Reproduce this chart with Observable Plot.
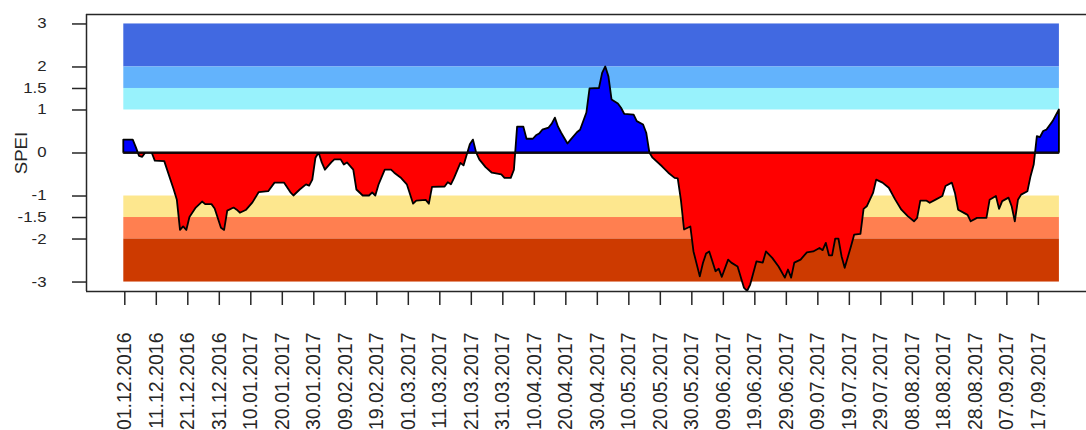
<!DOCTYPE html>
<html>
<head>
<meta charset="utf-8">
<script src="https://cdn.jsdelivr.net/npm/d3@7"></script>
<script src="https://cdn.jsdelivr.net/npm/@observablehq/plot@0.6"></script>
<style>
  html, body { margin: 0; padding: 0; background: white; overflow: hidden; }
  #chart { width: 1086px; height: 430px; }
</style>
</head>
<body>
<div id="chart"></div>
<script>
// ---- data: day offsets from 01.12.2016 and SPEI values
const startDate = "2016-12-01";
const dayOffsets = [0,3,4,5,6,7,9,10,13,16,17,18,19,20,21,23,25,26,28,29,31,32,33,35,36,37,39,41,43,46,48,51,53,54,56,58,59,60,61,62,63,64,66,67,69,70,71,73,74,76,78,79,80,81,83,85,86,88,90,92,93,96,97,98,102,103,104,105,107,108,110,111,112,113,115,117,120,121,123,124,125,127,128,130,131,132,133,135,136,137,138,139,141,142,144,145,147,148,151,152,153,154,155,157,158,159,162,163,165,166,167,168,171,173,175,176,177,178,180,181,183,184,185,186,188,189,190,192,193,195,197,198,199,201,203,204,206,208,210,211,212,213,215,217,219,221,222,223,224,225,226,227,228,229,231,232,234,235,236,238,239,241,243,245,247,249,251,252,253,255,256,258,260,261,263,264,265,267,268,269,271,274,275,277,278,279,281,282,283,284,285,287,288,289,290,291,292,293,295,297];
const speiValues = [0.30,0.30,0.12,-0.08,-0.10,0.00,0.00,-0.19,-0.20,-0.86,-1.10,-1.80,-1.72,-1.80,-1.50,-1.28,-1.14,-1.20,-1.20,-1.30,-1.75,-1.80,-1.35,-1.28,-1.33,-1.40,-1.33,-1.16,-0.92,-0.90,-0.70,-0.70,-0.92,-1.00,-0.86,-0.74,-0.77,-0.63,-0.12,0.00,-0.23,-0.40,-0.23,-0.16,-0.16,-0.28,-0.23,-0.40,-0.86,-1.00,-1.00,-0.93,-1.00,-0.75,-0.40,-0.40,-0.47,-0.58,-0.74,-1.19,-1.12,-1.10,-1.19,-0.80,-0.79,-0.69,-0.74,-0.59,-0.24,-0.30,0.19,0.30,0.00,-0.16,-0.34,-0.47,-0.51,-0.59,-0.59,-0.40,0.60,0.60,0.32,0.32,0.40,0.44,0.53,0.58,0.67,0.81,0.60,0.46,0.21,0.30,0.47,0.53,0.93,1.49,1.50,1.85,2.00,1.77,1.23,1.14,1.04,0.90,0.88,0.73,0.65,0.46,0.00,-0.12,-0.32,-0.47,-0.59,-0.60,-1.10,-1.79,-1.72,-2.30,-2.88,-2.57,-2.35,-2.30,-2.76,-2.70,-2.89,-2.49,-2.56,-2.65,-3.14,-3.22,-3.07,-2.53,-2.56,-2.30,-2.45,-2.65,-2.91,-2.72,-2.91,-2.56,-2.49,-2.32,-2.30,-2.22,-2.27,-2.10,-2.39,-2.39,-2.00,-2.00,-2.41,-2.68,-2.18,-1.91,-1.89,-1.31,-1.25,-0.94,-0.63,-0.70,-0.82,-1.09,-1.33,-1.48,-1.60,-1.52,-1.12,-1.12,-1.17,-1.09,-1.01,-0.78,-0.70,-0.94,-1.33,-1.41,-1.45,-1.60,-1.52,-1.52,-1.10,-1.01,-1.31,-1.13,-1.05,-1.25,-1.60,-1.10,-0.98,-0.90,-0.55,-0.28,0.38,0.36,0.50,0.53,0.73,1.00];

// background category bands
const bandLow  = [2, 1.5, 1, -1.5, -2, -3];
const bandHigh = [3, 2, 1.5, -1, -1.5, -2];
const bandColors = ["#4169E1", "#63B3FC", "#98F2FC", "#FDE78E", "#FF7F50", "#CD3A00"];

// axis ticks
const yTicks = [3, 2, 1.5, 1, 0, -1, -1.5, -2, -3];
const xTickLabels = ["01.12.2016","11.12.2016","21.12.2016","31.12.2016","10.01.2017","20.01.2017","30.01.2017","09.02.2017","19.02.2017","01.03.2017","11.03.2017","21.03.2017","31.03.2017","10.04.2017","20.04.2017","30.04.2017","10.05.2017","20.05.2017","30.05.2017","09.06.2017","19.06.2017","29.06.2017","09.07.2017","19.07.2017","29.07.2017","08.08.2017","18.08.2017","28.08.2017","07.09.2017","17.09.2017"];

// ---- build
const DAY = 864e5;
const t0 = new Date(startDate + "T00:00:00Z").getTime();
const toDate = d => new Date(t0 + d * DAY);
const series = dayOffsets.map((d, i) => ({date: toDate(d), v: speiValues[i]}));
const first = series[0].date, last = series[series.length - 1].date;
const bands = bandLow.map((lo, i) => ({y1: lo, y2: bandHigh[i], color: bandColors[i]}));
const parse = d3.utcParse("%d.%m.%Y");
const fmt = d3.utcFormat("%d.%m.%Y");
const xTicks = xTickLabels.map(parse);

const W = 1086, H = 430, mL = 86, mT = 14, mB = 139;
const xDomain = [toDate(-11.84), toDate(305.6)];
const yDomain = [-3.22, 3.22];
const ink = "#262626";

const plot = Plot.plot({
  width: W, height: H,
  marginLeft: mL, marginRight: 0, marginTop: mT, marginBottom: mB,
  style: {fontFamily: "'Liberation Sans', Arial, sans-serif", color: ink, background: "white", fontSize: "14px"},
  x: {type: "utc", domain: xDomain},
  y: {domain: yDomain},
  marks: [
    Plot.rect(bands, {x1: () => first, x2: () => last, y1: "y1", y2: "y2", fill: "color"}),
    Plot.areaY(series, {x: "date", y1: 0, y2: "v", fill: "#0000FF", stroke: "black", strokeWidth: 1.8}),
    Plot.areaY(series, {x: "date", y1: 0, y2: "v", fill: "#FF0000", stroke: "black", strokeWidth: 1.8}),
    Plot.ruleY([0], {x1: first, x2: last, stroke: "black", strokeWidth: 1.6}),
    Plot.ruleX([xDomain[0]], {stroke: ink, strokeWidth: 1.5}),
    Plot.ruleY([yDomain[0], yDomain[1]], {stroke: ink, strokeWidth: 1.5}),
    Plot.axisY({ticks: yTicks, tickSize: 14, tickPadding: 26, tickFormat: d => String(d), fontSize: 14, label: null, strokeWidth: 1.5}),
    Plot.axisX({ticks: xTicks, tickFormat: fmt, tickRotate: -90, tickSize: 14, tickPadding: 27, fontSize: 19.5, label: null, strokeWidth: 1.5, dx: 1}),
    Plot.text(["SPEI"], {frameAnchor: "left", text: d => d, rotate: -90, dx: -65, textAnchor: "middle", fontSize: 16.5, fill: ink})
  ]
});

document.getElementById("chart").appendChild(plot);

// split the two area copies at the zero line (blue above, red below) using nested svg viewports
const plotH = H - mT - mB;
const y0 = mT + plotH * (yDomain[1] - 0) / (yDomain[1] - yDomain[0]);
const NS = "http://www.w3.org/2000/svg";
function wrapIn(g, vy, vh) {
  if (!g) return;
  const inner = document.createElementNS(NS, "svg");
  inner.setAttribute("x", 0); inner.setAttribute("y", vy);
  inner.setAttribute("width", W); inner.setAttribute("height", vh);
  inner.setAttribute("viewBox", `0 ${vy} ${W} ${vh}`);
  inner.setAttribute("overflow", "hidden");
  g.parentNode.insertBefore(inner, g);
  inner.appendChild(g);
}
const areaGroups = plot.querySelectorAll('g[aria-label="area"]');
wrapIn(areaGroups[0], 0, y0);
wrapIn(areaGroups[1], y0, H - y0);

// the reference typeface is a little wider than Liberation Sans: stretch the texts along their baselines
function stretch(selector, factor) {
  plot.querySelectorAll(selector).forEach(t => {
    const len = t.getComputedTextLength();
    if (len > 0) {
      t.setAttribute("textLength", (len * factor).toFixed(2));
      t.setAttribute("lengthAdjust", "spacingAndGlyphs");
    }
  });
}
stretch('g[aria-label="y-axis tick label"] text', 1.2);
stretch('g[aria-label="text"] text', 1.13);
</script>
</body>
</html>
